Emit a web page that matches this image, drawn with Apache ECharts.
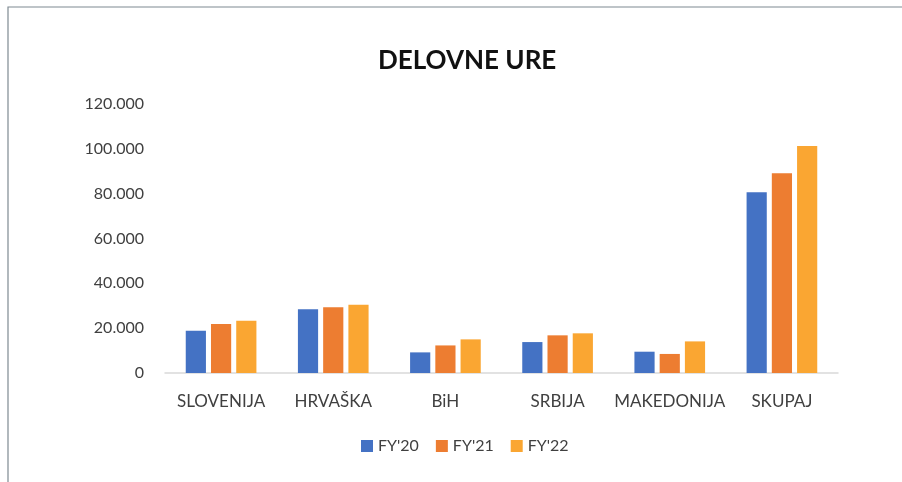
<!DOCTYPE html>
<html>
<head>
<meta charset="utf-8">
<script src="https://cdn.jsdelivr.net/npm/echarts@6/dist/echarts.min.js"></script>
<style>html,body{margin:0;padding:0;background:#fff}#c{width:902px;height:482px}</style>
</head>
<body>
<div id="c"></div>
<script>
const categories = ['SLOVENIJA', 'HRVAŠKA', 'BiH', 'SRBIJA', 'MAKEDONIJA', 'SKUPAJ'];
const seriesNames = ["FY'20", "FY'21", "FY'22"];
const fy20 = [18900, 28400, 9200, 13800, 9500, 80600];
const fy21 = [21900, 29300, 12300, 16800, 8500, 89100];
const fy22 = [23300, 30500, 15000, 17700, 14100, 101300];
const colors = ['#4472C4', '#ED7D31', '#FAA632'];

const fmt = v => (v === 0 ? '0' : (v / 1000).toFixed(3));

const chart = echarts.init(document.getElementById('c'), null, {renderer: 'canvas'});
const font = 'Lato, "Noto Sans", sans-serif';
chart.setOption({
  animation: false,
  backgroundColor: '#fff',
  color: colors,
  graphic: [{
    type: 'rect', shape: {x: 8, y: 7, width: 920, height: 500},
    style: {fill: 'none', stroke: '#7f8a92', lineWidth: 1.2}, silent: true, z: -1
  }],
  title: {
    text: 'DELOVNE URE', left: 373, top: 43, itemGap: 0,
    textStyle: {fontFamily: font, fontWeight: 'bold', fontSize: 26, color: '#111'}
  },
  legend: {
    data: seriesNames, bottom: 23, left: 356, itemWidth: 12, itemHeight: 12, itemGap: 17,
    icon: 'rect',
    textStyle: {fontFamily: font, fontSize: 16, color: '#404040'}
  },
  grid: {left: 165, right: 64, top: 104, bottom: 109},
  xAxis: {
    type: 'category', data: categories,
    axisLine: {lineStyle: {color: '#d9d9d9', width: 1.5}},
    axisTick: {show: false},
    axisLabel: {fontFamily: font, fontSize: 17, color: '#404040', margin: 20, interval: 0}
  },
  yAxis: {
    type: 'value', min: 0, max: 120000, interval: 20000,
    splitLine: {show: false},
    axisLine: {show: false}, axisTick: {show: false},
    axisLabel: {fontFamily: font, fontSize: 16, color: '#404040', margin: 21, formatter: fmt}
  },
  series: [
    {name: seriesNames[0], type: 'bar', data: fy20, barGap: '25%', barCategoryGap: '37%'},
    {name: seriesNames[1], type: 'bar', data: fy21, barGap: '25%', barCategoryGap: '37%'},
    {name: seriesNames[2], type: 'bar', data: fy22, barGap: '25%', barCategoryGap: '37%'}
  ]
});
</script>
</body>
</html>
